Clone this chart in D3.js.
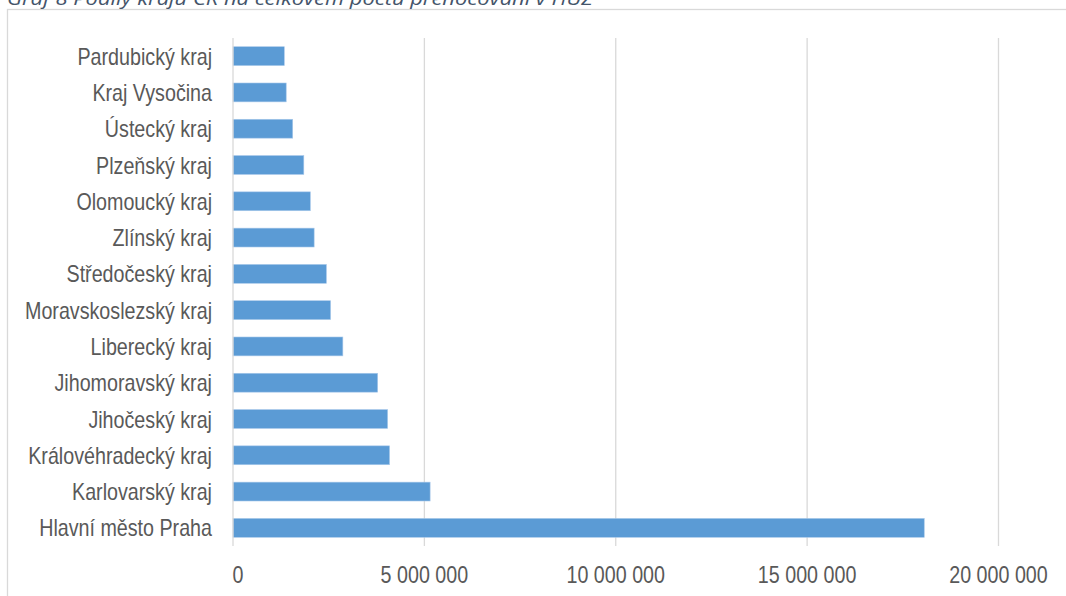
<!DOCTYPE html>
<html><head><meta charset="utf-8">
<script src="https://cdn.jsdelivr.net/npm/d3@7"></script>
<style>
html,body{margin:0;padding:0;background:#fff;overflow:hidden;}
svg{display:block;}
</style></head>
<body>
<svg id="chart" width="1066" height="596"></svg>
<script>
const titleText = "Graf 8 Podíly krajů ČR na celkovém počtu přenocování v HUZ";
const categories = ["Pardubický kraj","Kraj Vysočina","Ústecký kraj","Plzeňský kraj","Olomoucký kraj","Zlínský kraj","Středočeský kraj","Moravskoslezský kraj","Liberecký kraj","Jihomoravský kraj","Jihočeský kraj","Královéhradecký kraj","Karlovarský kraj","Hlavní město Praha"];
const values = [1340000,1390000,1560000,1850000,2020000,2120000,2440000,2550000,2870000,3780000,4040000,4090000,5150000,18060000];
const tickValues = [0,5000000,10000000,15000000,20000000];

const svg = d3.select("#chart");
const labelFont = "'Liberation Sans',Arial,sans-serif";
const textColor = "#595959";
const gridColor = "#d9d9d9";
const narrow = 0.82; // emulate Arial Narrow proportions

function condense(sel){
  sel.each(function(){
    const w = this.getComputedTextLength();
    d3.select(this).attr("textLength", w*narrow).attr("lengthAdjust","spacingAndGlyphs");
  });
}

// chart border (cut at top/right)
svg.append("rect").attr("x",7.5).attr("y",9.5).attr("width",1080).attr("height",600)
  .attr("fill","none").attr("stroke","#d9d9d9").attr("stroke-width",1.3);

// title (cropped at top)
svg.append("text").attr("x",7).attr("y",5)
  .attr("font-family","'Open Sans','Noto Sans',sans-serif").attr("font-style","italic")
  .attr("font-size",18).attr("fill","#44546A")
  .attr("textLength",586).attr("lengthAdjust","spacingAndGlyphs")
  .text(titleText);

const x = d3.scaleLinear().domain([0,20000000]).range([233,998.5]);
const y = d3.scaleBand().domain(categories).range([38,546]).paddingInner(0.48).paddingOuter(0.24);

const fmt = v => d3.format(",")(v).replace(/,/g," ");

// gridlines
svg.append("g").selectAll("line").data(tickValues.slice(1)).join("line")
  .attr("x1",d=>x(d)).attr("x2",d=>x(d)).attr("y1",38).attr("y2",546)
  .attr("stroke",gridColor).attr("stroke-width",1.3);

// bars
svg.append("g").selectAll("rect").data(values).join("rect")
  .attr("x",x(0)).attr("y",(d,i)=>y(categories[i]))
  .attr("width",d=>x(d)-x(0)).attr("height",y.bandwidth())
  .attr("fill","#5B9BD5").attr("stroke","#a8c8ea").attr("stroke-width",0.6);

// vertical axis line
svg.append("line").attr("x1",x(0)).attr("x2",x(0)).attr("y1",38).attr("y2",546)
  .attr("stroke",gridColor).attr("stroke-width",1.3);

// category labels
svg.append("g").selectAll("text").data(categories).join("text")
  .attr("x",212).attr("y",d=>y(d)+y.bandwidth()/2).attr("dy","0.36em")
  .attr("text-anchor","end").attr("font-family",labelFont)
  .attr("font-size",24).attr("fill",textColor).text(d=>d)
  .call(condense);

// x tick labels
svg.append("g").selectAll("text").data(tickValues).join("text")
  .attr("x",d=>d===0?x(d)-0.5:x(d)).attr("y",582.5)
  .attr("text-anchor",d=>d===0?"start":"middle").attr("font-family",labelFont)
  .attr("font-size",24).attr("fill",textColor).text(d=>fmt(d))
  .call(condense);
</script>
</body></html>
